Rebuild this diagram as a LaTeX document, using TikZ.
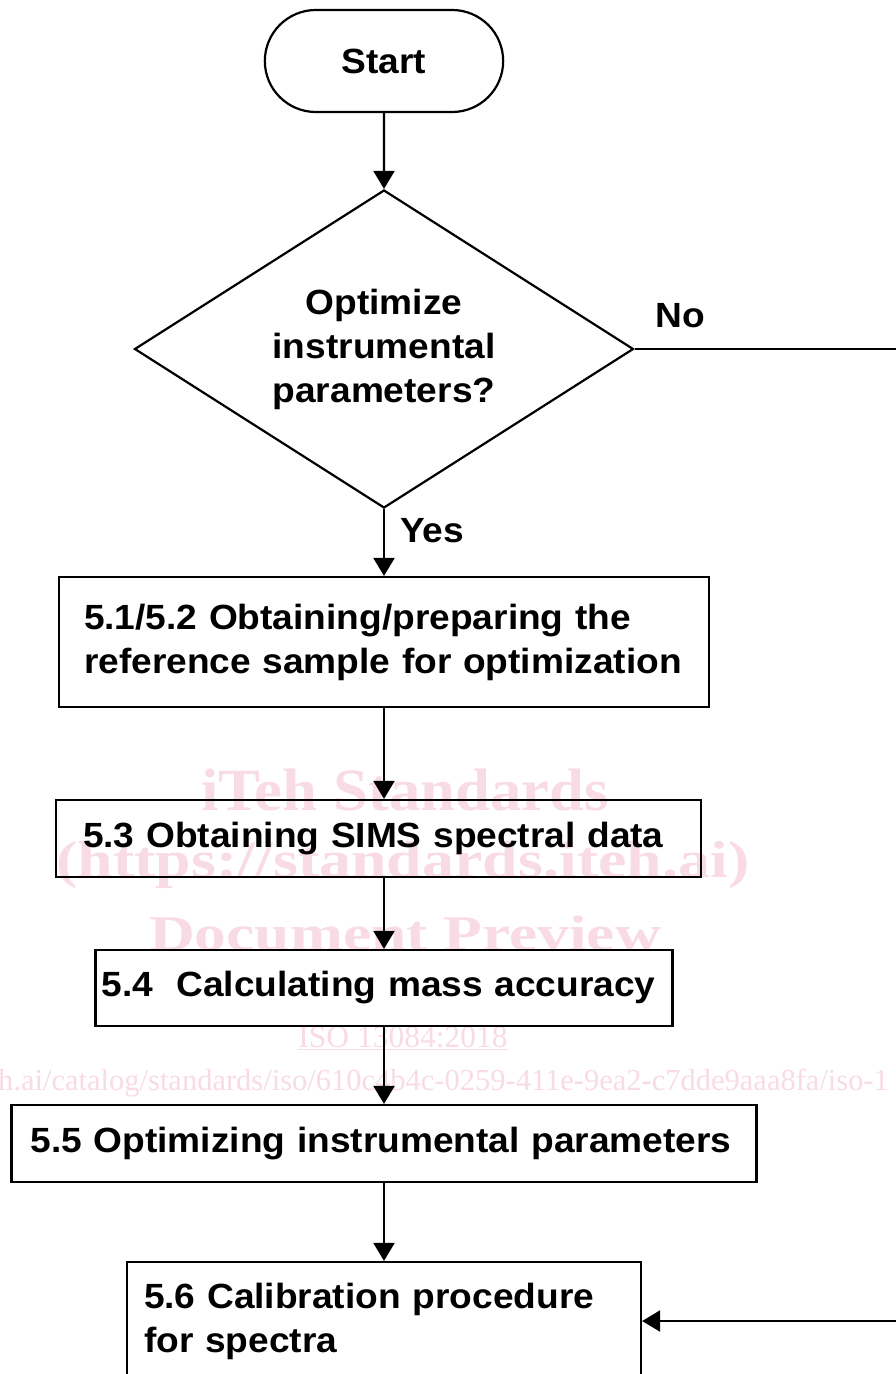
\documentclass[tikz,border=0pt]{standalone}
\usepackage{fontspec}
\setmainfont{Liberation Sans}[FakeStretch=1.06]
\newfontfamily\wmserif{Liberation Serif}
\usetikzlibrary{shapes.geometric,shapes.misc,arrows.meta}
\definecolor{wmpink}{RGB}{249,220,227}

\begin{document}
\begin{tikzpicture}[x=1pt,y=-1pt,
	every node/.style={font=\fontsize{35}{44}\selectfont\bfseries},
	stepbox/.style={draw,line width=2.2pt,align=left,inner ysep=0pt},
	flow/.style={line width=2.2pt,-{Triangle[length=18pt,width=21pt]}},
	wm/.style={text=wmpink,anchor=base}]
	\fill[white] (0,0) rectangle (896,1374);
	\useasboundingbox (0,0) rectangle (896,1374);
	\clip (0,0) rectangle (896,1374);
	\node[wm,font=\wmserif\fontsize{60}{60}\selectfont\bfseries] (wm1) at (405,810) {\scalebox{1.045}[1]{iTeh Standards}};
	\node[wm,font=\wmserif\fontsize{52}{52}\selectfont\bfseries] (wm2) at (403,877) {\scalebox{1.23}[1]{(https://standards.iteh.ai)}};
	\node[wm,font=\wmserif\fontsize{50}{50}\selectfont\bfseries] (wm3) at (405,950) {\scalebox{1.27}[1]{Document Preview}};
	\node[wm,font=\wmserif\fontsize{31.5}{32}\selectfont] (wm4) at (403,1047) {\underline{ISO 13084:2018}};
	\node[wm,anchor=base west,inner sep=0pt,font=\wmserif\fontsize{30.5}{32}\selectfont] (wm5) at (-2,1090) {h.ai/catalog/standards/iso/610c4b4c-0259-411e-9ea2-c7dde9aaa8fa/iso-1};
	\node[draw,rounded rectangle,line width=2.2pt,minimum width=245pt,minimum height=102pt] (start) at (384,61) {Start};
	\node[draw,diamond,aspect=1.57,line width=2.2pt,align=center,inner sep=0pt,minimum width=499pt,minimum height=318pt] (optq) at (384,349) {Optimize\\instrumental\\parameters?};
	\node[stepbox,text width=600pt,inner xsep=25pt,minimum height=130pt] (prep) at (384,642) {5.1/5.2 Obtaining/preparing the\\reference sample for optimization};
	\node[stepbox,text width=591pt,inner xsep=27pt,minimum height=77pt] (spec) at (378.5,838.5) {5.3 Obtaining SIMS spectral data};
	\node[stepbox,text width=565pt,inner xsep=6pt,minimum height=76pt] (acc) at (384,988) {5.4\ \ Calculating mass accuracy};
	\node[stepbox,text width=707pt,inner xsep=19pt,minimum height=77pt] (opt) at (384,1143.5) {5.5 Optimizing instrumental parameters};
	\node[stepbox,text width=480pt,inner xsep=17pt,minimum height=118pt] (cal) at (384,1321) {5.6 Calibration procedure\\for spectra};
	\node (no) at (680,316) {No};
	\node (yes) at (432,531) {Yes};
	\draw[flow] (start) -- (optq);
	\draw[flow] (optq) -- (prep);
	\draw[flow] (prep.south) -- (prep.south |- spec.north);
	\draw[flow] (spec.south -| acc.north) -- (acc);
	\draw[flow] (acc) -- (opt);
	\draw[flow] (opt) -- (cal);
	\draw[flow] (optq.east) -- ++(300,0) |- (cal.east);
\end{tikzpicture}
\end{document}
